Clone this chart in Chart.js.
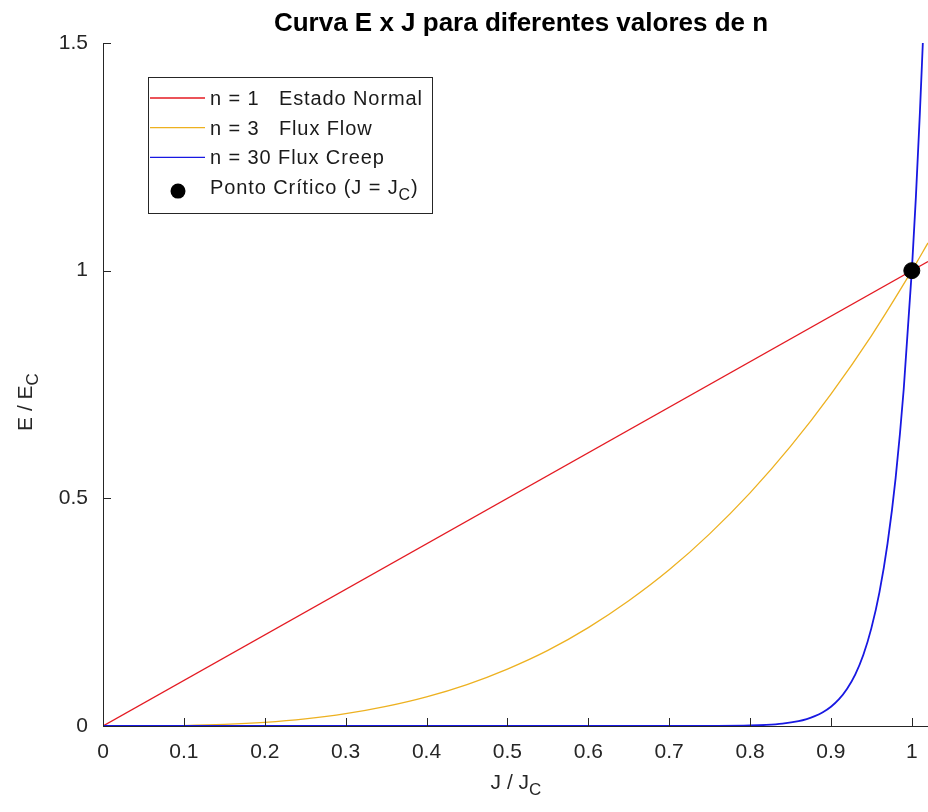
<!DOCTYPE html>
<html>
<head>
<meta charset="utf-8">
<script src="https://cdn.jsdelivr.net/npm/chart.js@4/dist/chart.umd.min.js"></script>
<style>
  body { margin: 0; background: #fff; }
  #wrap { width: 928px; height: 812px; }
</style>
</head>
<body>
<div id="wrap"><canvas id="chart" width="928" height="812"></canvas></div>
<script>
// values
const jNormal = [0, 1.02];
const eNormal = [0, 1.02];

const jFlow = [0, 0.05, 0.1, 0.15, 0.2, 0.25, 0.3, 0.35, 0.4, 0.45, 0.5, 0.55, 0.6, 0.65, 0.7, 0.75, 0.8, 0.85, 0.9, 0.95, 1.0, 1.02];
const eFlow = [0, 0.0001, 0.001, 0.0034, 0.008, 0.0156, 0.027, 0.043, 0.064, 0.091, 0.125, 0.166, 0.216, 0.275, 0.343, 0.422, 0.512, 0.614, 0.729, 0.857, 1.0, 1.061];

const jCreep = [0, 0.7, 0.75, 0.8, 0.82, 0.84, 0.86, 0.87, 0.88, 0.89, 0.9, 0.91, 0.92, 0.93, 0.94, 0.95, 0.96, 0.97, 0.98, 0.99, 1.0, 1.005, 1.01, 1.0136];
const eCreep = [0, 0, 0.0002, 0.0012, 0.0026, 0.0054, 0.0108, 0.0153, 0.0216, 0.0303, 0.0424, 0.059, 0.082, 0.113, 0.156, 0.215, 0.294, 0.401, 0.545, 0.740, 1.0, 1.161, 1.348, 1.5];

const jCritical = [1];
const eCritical = [1];

const xTicks = [0, 0.1, 0.2, 0.3, 0.4, 0.5, 0.6, 0.7, 0.8, 0.9, 1];
const yTicks = [0, 0.5, 1, 1.5];

const legendItems = [
  { text: "n = 1   Estado Normal", color: "rgb(228,26,34)", kind: "line" },
  { text: "n = 3   Flux Flow", color: "rgb(237,177,32)", kind: "line" },
  { text: "n = 30 Flux Creep", color: "rgb(24,24,226)", kind: "line" },
  { text: "Ponto Crítico (J = J", sub: "C", after: ")", color: "#000", kind: "dot" },
];

const toPoints = (xs, ys) => xs.map((x, i) => ({ x: x, y: ys[i] }));

const axisColor = "#262626";
const fontFamily = "'Liberation Sans', Arial, sans-serif";
const tickFont = { family: fontFamily, size: 21 };

// text with subscript helper
function drawSubText(ctx, main, sub, after, x, y, size, align) {
  const subSize = Math.round(size * 0.8);
  ctx.font = `${size}px ${fontFamily}`;
  const wMain = ctx.measureText(main).width;
  const wAfter = after ? ctx.measureText(after).width : 0;
  ctx.font = `${subSize}px ${fontFamily}`;
  const wSub = ctx.measureText(sub).width;
  const total = wMain + wSub + wAfter;
  const sx = align === "center" ? x - total / 2 : x;
  ctx.textAlign = "left";
  ctx.textBaseline = "alphabetic";
  ctx.font = `${size}px ${fontFamily}`;
  ctx.fillText(main, sx, y);
  ctx.font = `${subSize}px ${fontFamily}`;
  ctx.fillText(sub, sx + wMain, y + size * 0.3);
  if (after) {
    ctx.font = `${size}px ${fontFamily}`;
    ctx.fillText(after, sx + wMain + wSub, y);
  }
}

const decorations = {
  id: "decorations",
  afterDraw(chart) {
    const ctx = chart.ctx;
    const xs = chart.scales.x;
    const ys = chart.scales.y;
    const area = chart.chartArea;
    ctx.save();

    // inward tick marks
    ctx.strokeStyle = axisColor;
    ctx.lineWidth = 1;
    ctx.beginPath();
    xTicks.forEach((v) => {
      const px = Math.round(xs.getPixelForValue(v)) + 0.5;
      ctx.moveTo(px, area.bottom);
      ctx.lineTo(px, area.bottom - 8);
    });
    yTicks.forEach((v) => {
      const py = Math.round(ys.getPixelForValue(v)) + 0.5;
      ctx.moveTo(area.left, py);
      ctx.lineTo(area.left + 8, py);
    });
    ctx.stroke();

    // title
    ctx.fillStyle = "#000";
    ctx.font = `bold 26px ${fontFamily}`;
    ctx.textAlign = "center";
    ctx.textBaseline = "alphabetic";
    ctx.fillText("Curva E x J para diferentes valores de n", 521, 31);

    // axis titles
    ctx.fillStyle = axisColor;
    drawSubText(ctx, "J / J", "C", "", 516, 789, 21, "center");
    ctx.save();
    ctx.translate(32, 402);
    ctx.rotate(-Math.PI / 2);
    drawSubText(ctx, "E / E", "C", "", 0, 0, 21, "center");
    ctx.restore();

    // legend
    const lx = 148, ly = 77, lw = 284, lh = 136;
    ctx.fillStyle = "#fff";
    ctx.fillRect(lx, ly, lw, lh);
    ctx.strokeStyle = axisColor;
    ctx.strokeRect(lx + 0.5, ly + 0.5, lw, lh);
    ctx.letterSpacing = "0.9px";
    legendItems.forEach((item, i) => {
      const cy = 98 + i * 29.7;
      if (item.kind === "line") {
        ctx.strokeStyle = item.color;
        ctx.lineWidth = 1.3;
        ctx.beginPath();
        ctx.moveTo(150, cy);
        ctx.lineTo(205, cy);
        ctx.stroke();
      } else {
        ctx.fillStyle = item.color;
        ctx.beginPath();
        ctx.arc(178, cy + 4, 7.5, 0, Math.PI * 2);
        ctx.fill();
      }
      ctx.fillStyle = "#1a1a1a";
      if (item.sub) {
        drawSubText(ctx, item.text, item.sub, item.after, 210, cy + 7, 20, "left");
      } else {
        ctx.font = `20px ${fontFamily}`;
        ctx.textAlign = "left";
        ctx.textBaseline = "alphabetic";
        ctx.fillText(item.text, 210, cy + 7);
      }
    });
    ctx.letterSpacing = "0px";
    ctx.restore();
  },
};

new Chart(document.getElementById("chart"), {
  type: "scatter",
  data: {
    datasets: [
      {
        label: "Ponto Crítico",
        data: toPoints(jCritical, eCritical),
        backgroundColor: "#000",
        borderColor: "#000",
        pointRadius: 8,
        order: 0,
      },
      {
        label: "n = 30",
        data: toPoints(jCreep, eCreep),
        showLine: true,
        borderColor: legendItems[2].color,
        borderWidth: 1.8,
        pointRadius: 0,
        cubicInterpolationMode: "monotone",
        order: 1,
      },
      {
        label: "n = 3",
        data: toPoints(jFlow, eFlow),
        showLine: true,
        borderColor: legendItems[1].color,
        borderWidth: 1.3,
        pointRadius: 0,
        cubicInterpolationMode: "monotone",
        order: 2,
      },
      {
        label: "n = 1",
        data: toPoints(jNormal, eNormal),
        showLine: true,
        borderColor: legendItems[0].color,
        borderWidth: 1.3,
        pointRadius: 0,
        order: 3,
      },
    ],
  },
  options: {
    responsive: false,
    animation: false,
    devicePixelRatio: 1,
    layout: { autoPadding: false, padding: { top: 43, right: 0, bottom: 0, left: 0 } },
    plugins: {
      legend: { display: false },
      title: { display: false },
      tooltip: { enabled: false },
    },
    scales: {
      x: {
        type: "linear",
        min: 0,
        max: 1.02,
        grid: { display: false },
        border: { display: true, color: axisColor, width: 1 },
        ticks: { color: axisColor, font: tickFont, padding: 6, maxRotation: 0, includeBounds: false, callback: (v) => String(v) },
        afterBuildTicks: (s) => { s.ticks = xTicks.map((v) => ({ value: v })); },
        afterFit: (s) => { s.height = 86; s.paddingLeft = 0; s.paddingRight = 0; },
      },
      y: {
        type: "linear",
        min: 0,
        max: 1.5,
        grid: { display: false },
        border: { display: true, color: axisColor, width: 1 },
        ticks: { color: axisColor, font: tickFont, padding: 7, includeBounds: false, callback: (v) => String(v) },
        afterBuildTicks: (s) => { s.ticks = yTicks.map((v) => ({ value: v })); },
        afterFit: (s) => { s.width = 103; s.paddingTop = 0; s.paddingBottom = 0; },
      },
    },
  },
  plugins: [decorations],
});
</script>
</body>
</html>
